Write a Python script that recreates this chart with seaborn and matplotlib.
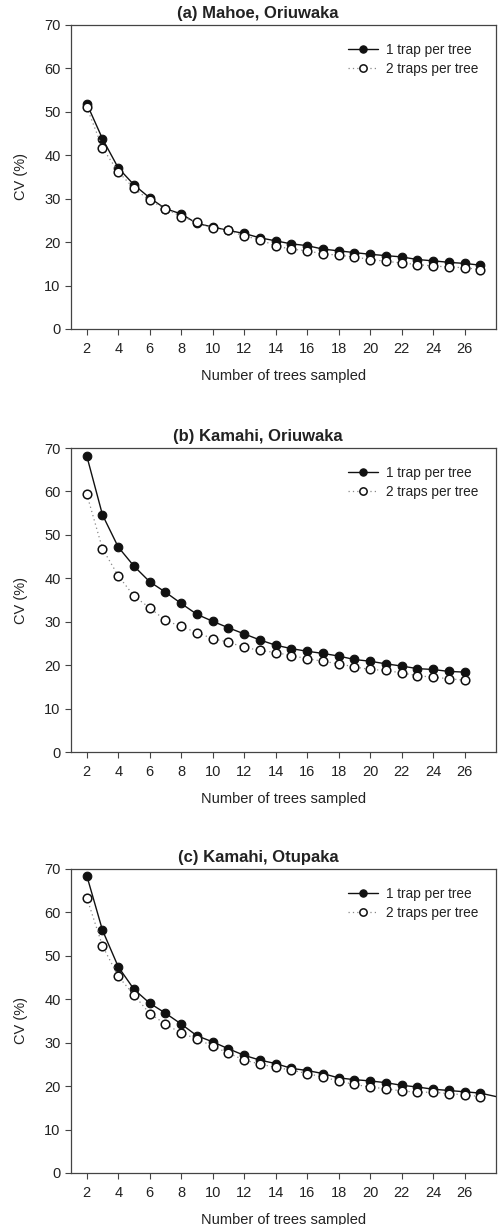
import numpy as np
import pandas as pd
import matplotlib
matplotlib.use("Agg")
import matplotlib.pyplot as plt
import seaborn as sns

# ---------------- data ----------------
titles = ["(a) Mahoe, Oriuwaka", "(b) Kamahi, Oriuwaka", "(c) Kamahi, Otupaka"]
series_labels = ["1 trap per tree", "2 traps per tree"]

a_trees = list(range(2, 28))
a_one = [51.9, 43.8, 37.1, 33.2, 30.2, 27.7, 26.5, 24.3, 23.5, 22.7, 22.0, 21.0,
         20.3, 19.6, 19.2, 18.4, 18.0, 17.6, 17.2, 16.9, 16.6, 16.0, 15.7, 15.35,
         15.1, 14.7]
a_two = [51.1, 41.7, 36.2, 32.4, 29.6, 27.7, 25.9, 24.6, 23.3, 22.7, 21.4, 20.6,
         19.1, 18.4, 18.0, 17.3, 17.0, 16.6, 16.0, 15.6, 15.2, 14.85, 14.5, 14.3,
         14.1, 13.7]

b_trees = list(range(2, 27))
b_one = [68.2, 54.6, 47.2, 42.8, 39.2, 36.8, 34.2, 31.7, 30.1, 28.6, 27.2, 25.8,
         24.6, 23.8, 23.2, 22.7, 22.1, 21.3, 20.9, 20.3, 19.8, 19.2, 19.0, 18.55,
         18.4]
b_two = [59.4, 46.8, 40.6, 35.9, 33.2, 30.3, 28.9, 27.5, 26.1, 25.3, 24.1, 23.4,
         22.9, 22.2, 21.5, 20.9, 20.3, 19.6, 19.0, 18.8, 18.2, 17.6, 17.2, 16.9,
         16.5]

c_trees_one = list(range(2, 29))
c_one = [68.5, 55.9, 47.5, 42.3, 39.1, 36.8, 34.3, 31.6, 30.2, 28.6, 27.1, 26.0,
         25.2, 24.1, 23.6, 22.9, 21.9, 21.5, 21.2, 20.8, 20.2, 19.8, 19.3, 19.0,
         18.7, 18.4, 17.6]
c_trees_two = list(range(2, 28))
c_two = [63.4, 52.3, 45.3, 41.0, 36.7, 34.3, 32.2, 30.9, 29.2, 27.6, 26.0, 25.1,
         24.3, 23.7, 22.9, 22.1, 21.2, 20.4, 19.8, 19.4, 18.9, 18.6, 18.6, 18.3,
         18.0, 17.6]

panels = [
    (titles[0], a_trees, a_one, a_trees, a_two),
    (titles[1], b_trees, b_one, b_trees, b_two),
    (titles[2], c_trees_one, c_one, c_trees_two, c_two),
]
x_ticks = list(range(2, 27, 2))
y_ticks = list(range(0, 71, 10))

# ---------------- style ----------------
sns.set_style("white")
plt.rcParams["font.family"] = ["Liberation Sans", "DejaVu Sans"]
plt.rcParams["font.size"] = 10.5
text_col = "#222222"
spine_col = "#444444"

fig = plt.figure(figsize=(5.02, 12.25), dpi=100)
W, H = 502, 1225
tops = [25, 448, 869]
ax_h = 304
left, right = 71, 496

for (title, x1, y1, x2, y2), top in zip(panels, tops):
    ax = fig.add_axes([left / W, 1 - (top + ax_h) / H, (right - left) / W, ax_h / H])
    df1 = pd.DataFrame({"trees": x1, "cv": y1})
    df2 = pd.DataFrame({"trees": x2, "cv": y2})
    n1 = len(x1)
    markevery = list(range(n1)) if x1[-1] <= 27 else list(range(n1 - 1))
    sns.lineplot(data=df1, x="trees", y="cv", ax=ax, color="#111111", lw=1.0,
                 marker="o", markersize=6.2, markerfacecolor="#111111",
                 markeredgecolor="#111111", markeredgewidth=0.8,
                 markevery=markevery, label=series_labels[0])
    sns.lineplot(data=df2, x="trees", y="cv", ax=ax, color="#888888", lw=0.9,
                 linestyle=(0, (1, 2.5)), marker="o", markersize=6.2,
                 markerfacecolor="white", markeredgecolor="#111111",
                 markeredgewidth=1.1, label=series_labels[1])
    ax.set_xlim(1, 28)
    ax.set_ylim(0, 70)
    ax.set_xticks(x_ticks)
    ax.set_yticks(y_ticks)
    ax.tick_params(axis="both", which="major", bottom=True, left=True,
                   top=False, right=False, direction="out", length=4.5, width=0.8,
                   colors=spine_col, labelcolor=text_col, labelsize=10.5)
    ax.tick_params(axis="x", pad=5)
    ax.tick_params(axis="y", pad=3)
    for s in ax.spines.values():
        s.set_color(spine_col)
        s.set_linewidth(0.9)
    ax.set_xlabel("Number of trees sampled", color=text_col, fontsize=10.5, labelpad=9)
    ax.set_ylabel("CV (%)", color=text_col, fontsize=10.5, labelpad=12)
    ax.set_title(title, fontweight="bold", fontsize=12, color=text_col, pad=5,
                 x=(258 - left) / (right - left))
    leg = ax.legend(loc="upper right", frameon=False, fontsize=9.8,
                    handlelength=2.2, handletextpad=0.6, labelspacing=0.4,
                    borderaxespad=0.9, markerscale=0.85)
    for t in leg.get_texts():
        t.set_color(text_col)

fig.savefig("out.png", dpi=100)
